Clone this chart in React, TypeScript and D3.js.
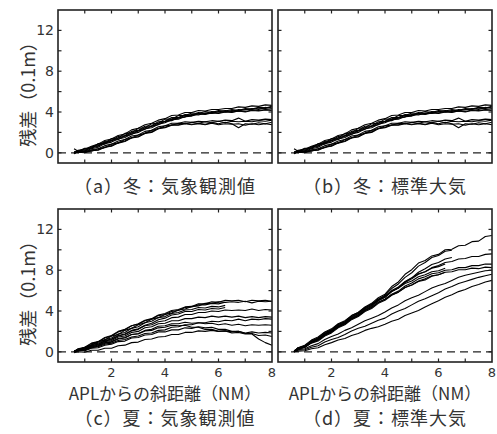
import React, { useRef, useEffect } from 'react';
import * as d3 from 'd3';

// distance along the slope (NM) at which each residual is sampled
const XS = [0.6, 0.75, 1.0, 1.25, 1.5, 1.75, 2.0, 2.25, 2.5, 2.75, 3.0, 3.25, 3.5, 3.75, 4.0, 4.25,
  4.5, 4.75, 5.0, 5.25, 5.5, 5.75, 6.0, 6.25, 6.5, 6.75, 7.0, 7.25, 7.5, 7.75, 8.0];

// winter runs (panels a and b look identical in the source)
const WINTER: number[][] = [
  [0.0, 0.25, 0.35, 0.65, 0.85, 1.2, 1.35, 1.7, 1.85, 2.25, 2.4, 2.75, 2.9, 3.2, 3.35, 3.65, 3.7, 3.95, 3.95, 4.15, 4.1, 4.25, 4.25, 4.35, 4.35, 4.5, 4.45, 4.6, 4.55, 4.7, 4.65],
  [0.1, 0.05, 0.4, 0.45, 0.9, 0.95, 1.4, 1.45, 1.9, 1.95, 2.4, 2.45, 2.85, 2.9, 3.3, 3.3, 3.65, 3.65, 3.9, 3.85, 4.05, 3.95, 4.15, 4.1, 4.25, 4.15, 4.35, 4.3, 4.45, 4.4, 4.55],
  [-0.1, 0.2, 0.25, 0.6, 0.7, 1.1, 1.2, 1.6, 1.7, 2.1, 2.2, 2.6, 2.65, 3.05, 3.1, 3.45, 3.45, 3.75, 3.7, 3.95, 3.85, 4.05, 4.0, 4.15, 4.05, 4.25, 4.2, 4.35, 4.25, 4.45, 4.35],
  [0.0, 0.15, 0.2, 0.5, 0.65, 1.0, 1.15, 1.45, 1.65, 1.95, 2.15, 2.45, 2.6, 2.9, 3.05, 3.3, 3.4, 3.65, 3.65, 3.85, 3.8, 3.95, 3.9, 4.05, 4.0, 4.1, 4.05, 4.2, 4.15, 4.25, 4.2],
  [0.4, 0.15, 0.45, 0.45, 0.85, 0.85, 1.25, 1.3, 1.65, 1.8, 2.15, 2.3, 2.6, 2.75, 3.1, 3.15, 3.45, 3.5, 3.75, 3.7, 3.9, 3.85, 4.05, 4.0, 4.15, 4.1, 4.25, 4.25, 4.4, 4.35, 4.5],
  [0.0, 0.1, 0.15, 0.4, 0.55, 0.9, 1.05, 1.35, 1.5, 1.85, 2.0, 2.35, 2.45, 2.8, 2.95, 3.25, 3.3, 3.55, 3.6, 3.8, 3.75, 3.9, 3.85, 4.0, 3.95, 4.1, 4.0, 4.15, 4.1, 4.2, 4.15],
  [0.0, 0.15, 0.1, 0.3, 0.4, 0.7, 0.85, 1.15, 1.3, 1.65, 1.75, 2.1, 2.2, 2.55, 2.65, 2.9, 2.9, 3.05, 3.0, 3.1, 3.05, 3.15, 3.1, 3.2, 3.15, 3.4, 3.1, 3.25, 3.2, 3.3, 3.25],
  [0.1, 0.0, 0.15, 0.15, 0.4, 0.5, 0.85, 0.95, 1.3, 1.45, 1.75, 1.9, 2.2, 2.35, 2.65, 2.7, 2.9, 2.85, 3.0, 2.9, 3.05, 2.95, 3.1, 2.95, 3.1, 3.05, 3.1, 3.05, 3.15, 3.1, 3.2],
  [0.0, 0.05, 0.0, 0.2, 0.25, 0.55, 0.65, 0.95, 1.1, 1.45, 1.55, 1.9, 2.0, 2.35, 2.45, 2.7, 2.7, 2.85, 2.75, 2.9, 2.8, 2.95, 2.85, 3.0, 2.85, 2.45, 2.85, 2.8, 2.95, 2.85, 3.0],
  [-0.1, 0.1, 0.05, 0.25, 0.3, 0.55, 0.7, 1.0, 1.15, 1.5, 1.6, 1.95, 2.05, 2.4, 2.5, 2.75, 2.75, 2.9, 2.8, 2.85, 2.75, 2.9, 2.75, 2.85, 2.8, 2.85, 2.7, 2.85, 2.75, 2.85, 2.75],
];

// summer, observed atmosphere (c)
const SUMMER_OBS: number[][] = [
  [0.0, 0.25, 0.4, 0.8, 0.95, 1.35, 1.55, 1.95, 2.15, 2.55, 2.75, 3.1, 3.25, 3.6, 3.75, 4.05, 4.15, 4.4, 4.45, 4.7, 4.7, 4.9, 4.85, 5.05, 5.0, 5.05, 4.9, 5.05, 5.0, 5.05, 4.95],
  [0.1, 0.2, 0.45, 0.65, 1.0, 1.15, 1.55, 1.7, 2.1, 2.3, 2.65, 2.85, 3.2, 3.35, 3.65, 3.8, 4.1, 4.2, 4.45, 4.5, 4.75, 4.75, 4.9, 4.85, 4.9, 4.85, 4.95, 4.8, 4.95, 4.9, 4.95],
  [0.0, 0.3, 0.45, 0.85, 1.0, 1.4, 1.6, 2.0, 2.2, 2.55, 2.7, 3.05, 3.2, 3.55, 3.65, 3.95, 4.05, 4.35, 4.4, 4.6, 4.6, 4.75, 4.7, 4.85],
  [0.0, 0.2, 0.35, 0.7, 0.85, 1.2, 1.35, 1.75, 1.9, 2.3, 2.45, 2.85, 3.0, 3.35, 3.45, 3.75, 3.85, 4.1, 4.15, 4.35, 4.3, 4.45, 4.4, 4.55],
  [0.0, 0.25, 0.3, 0.6, 0.75, 1.1, 1.25, 1.6, 1.75, 2.1, 2.25, 2.6, 2.8, 3.15, 3.3, 3.6, 3.7, 3.95, 3.95, 4.15, 4.1, 4.25, 4.2, 4.35],
  [0.0, 0.2, 0.3, 0.6, 0.75, 1.05, 1.2, 1.55, 1.7, 2.05, 2.2, 2.55, 2.65, 2.95, 3.05, 3.35, 3.4, 3.65, 3.65, 3.85, 3.85, 4.0, 3.95, 4.1, 4.05, 4.1, 4.05, 4.2, 4.05, 4.15, 4.1],
  [0.0, 0.15, 0.25, 0.55, 0.65, 1.0, 1.1, 1.45, 1.55, 1.9, 2.0, 2.35, 2.45, 2.75, 2.8, 3.05, 3.05, 3.25, 3.25, 3.4, 3.35, 3.5, 3.4, 3.5, 3.4, 3.5, 3.35, 3.45, 3.35, 3.45, 3.4],
  [0.0, 0.1, 0.15, 0.4, 0.5, 0.75, 0.85, 1.1, 1.2, 1.45, 1.55, 1.8, 1.85, 2.1, 2.15, 2.4, 2.45, 2.65, 2.65, 2.85, 2.85, 3.0, 2.95, 3.1, 3.05, 3.2, 3.05, 3.2, 3.15, 3.25, 3.2],
  [0.0, 0.15, 0.2, 0.5, 0.6, 0.9, 1.0, 1.3, 1.4, 1.7, 1.8, 2.1, 2.2, 2.5, 2.55, 2.75, 2.75, 2.9, 2.8, 2.85, 2.75, 2.8, 2.65, 2.75, 2.6, 2.7, 2.55, 2.65, 2.6, 2.65, 2.6],
  [0.0, 0.1, 0.1, 0.35, 0.4, 0.65, 0.75, 1.0, 1.05, 1.35, 1.4, 1.65, 1.7, 1.95, 1.95, 2.15, 2.15, 2.35, 2.3, 2.45, 2.35, 2.4, 2.2, 2.2, 2.0, 2.0, 1.8, 1.8, 1.6, 1.65, 1.5],
  [0.0, 0.15, 0.2, 0.45, 0.55, 0.85, 0.95, 1.25, 1.35, 1.7, 1.75, 2.05, 2.1, 2.35, 2.4, 2.6, 2.55, 2.6, 2.4, 2.4, 2.2, 2.2, 2.0, 2.05, 1.85, 1.9, 1.75, 1.75, 1.25, 0.9, 0.65],
  [-0.1, 0.0, -0.05, 0.15, 0.15, 0.35, 0.35, 0.6, 0.65, 0.9, 0.95, 1.2, 1.25, 1.45, 1.5, 1.7, 1.7, 1.9, 1.9, 2.05, 2.0, 2.1, 2.0, 2.05, 1.95, 2.0, 1.85, 1.95, 1.85, 1.9, 1.85],
];

// summer, standard atmosphere (d)
const SUMMER_STD: number[][] = [
  [0.0, 0.35, 0.55, 1.1, 1.35, 1.9, 2.15, 2.7, 2.95, 3.55, 3.85, 4.4, 4.75, 5.3, 5.65, 6.4, 6.85, 7.6, 8.05, 8.7, 8.95, 9.4, 9.55, 10.0, 10.05, 10.4, 10.45, 10.8, 10.85, 11.3, 11.4],
  [0.0, 0.35, 0.6, 1.0, 1.3, 1.75, 2.05, 2.55, 2.85, 3.4, 3.75, 4.3, 4.65, 5.15, 5.55, 6.2, 6.65, 7.3, 7.75, 8.4, 8.75, 9.25, 9.45, 9.85, 9.95],
  [0.0, 0.3, 0.45, 0.9, 1.15, 1.65, 1.95, 2.45, 2.75, 3.25, 3.55, 4.1, 4.45, 5.0, 5.35, 5.9, 6.25, 6.8, 7.15, 7.6, 7.85, 8.25, 8.45, 8.75, 8.85, 9.1, 9.15, 9.35, 9.35, 9.55, 9.6],
  [0.05, 0.4, 0.55, 1.0, 1.25, 1.75, 2.05, 2.55, 2.85, 3.35, 3.65, 4.2, 4.55, 5.1, 5.45, 6.0, 6.35, 6.9, 7.25, 7.65, 7.85, 8.2, 8.35, 8.6],
  [0.0, 0.25, 0.45, 0.9, 1.15, 1.65, 1.95, 2.45, 2.75, 3.25, 3.55, 4.05, 4.35, 4.85, 5.15, 5.65, 5.95, 6.45, 6.75, 7.15, 7.35, 7.65, 7.75, 8.0, 8.05, 8.25, 8.25, 8.45, 8.45, 8.6, 8.6],
  [0.0, 0.3, 0.45, 0.85, 1.05, 1.55, 1.85, 2.35, 2.65, 3.15, 3.45, 3.95, 4.25, 4.75, 5.05, 5.55, 5.85, 6.3, 6.55, 6.95, 7.15, 7.45, 7.55, 7.8, 7.85, 8.05, 8.05, 8.2, 8.15, 8.3, 8.25],
  [0.0, 0.4, 0.65, 1.15, 1.45, 1.95, 2.25, 2.75, 3.05, 3.55, 3.85, 4.35, 4.65, 5.15, 5.45, 5.95, 6.25, 6.7, 6.95, 7.35, 7.55, 7.85, 7.95, 8.2],
  [0.1, 0.35, 0.55, 1.0, 1.25, 1.7, 1.95, 2.45, 2.75, 3.25, 3.55, 4.05, 4.35, 4.85, 5.15, 5.6, 5.85, 6.3, 6.55, 6.9, 7.05, 7.4, 7.55, 7.8],
  [0.0, 0.15, 0.2, 0.45, 0.6, 0.95, 1.2, 1.4, 1.7, 2.05, 2.3, 2.5, 2.8, 3.1, 3.3, 3.7, 4.0, 4.25, 4.6, 4.95, 5.2, 5.5, 5.8, 6.15, 6.4, 6.7, 6.9, 7.1, 7.3, 7.45, 7.6],
  [0.0, 0.05, 0.1, 0.3, 0.4, 0.7, 0.9, 1.15, 1.3, 1.6, 1.8, 2.1, 2.3, 2.45, 2.7, 3.0, 3.2, 3.55, 3.8, 4.05, 4.4, 4.7, 5.0, 5.35, 5.6, 5.9, 6.1, 6.4, 6.6, 6.85, 7.0],
  [0.0, 0.2, 0.3, 0.6, 0.8, 1.2, 1.5, 1.75, 2.1, 2.35, 2.7, 3.05, 3.3, 3.55, 3.9, 4.3, 4.6, 5.0, 5.3, 5.55, 5.9, 6.25, 6.5, 6.7, 7.0, 7.3, 7.5, 7.65, 7.8, 7.95, 8.0],
  [0.0, 0.3, 0.45, 0.95, 1.25, 1.8, 2.15, 2.65, 2.95, 3.45, 3.75, 4.25, 4.55, 5.05, 5.35, 5.9, 6.25, 6.85, 7.25, 7.8, 8.15, 8.55, 8.75, 9.1, 9.25],
];

const X_TICKS = [1, 2, 3, 4, 5, 6, 7];
const X_LABELS = [2, 4, 6, 8];
const Y_TICKS = [0, 2, 4, 6, 8, 10, 12];
const Y_LABELS = [0, 4, 8, 12];
const CAPTIONS = ['（a）冬：気象観測値', '（b）冬：標準大気', '（c）夏：気象観測値', '（d）夏：標準大気'];
const Y_TITLE = '残差（0.1m）';
const X_TITLE = 'APLからの斜距離（NM）';

const CJK = '"Noto Sans CJK JP", sans-serif';
const NUM = '"DejaVu Sans", sans-serif';

export default function App() {
  const svgRef = useRef<SVGSVGElement>(null);

  useEffect(() => {
    if (!svgRef.current) return;
    const svg = d3.select(svgRef.current);
    svg.selectAll('*').remove();

    const W = 214, H = 153;
    const panels = [
      { x: 58, y: 10, data: WINTER, left: true, bottom: false },
      { x: 278, y: 10, data: WINTER, left: false, bottom: false },
      { x: 58, y: 209, data: SUMMER_OBS, left: true, bottom: true },
      { x: 278, y: 209, data: SUMMER_STD, left: false, bottom: true },
    ];

    panels.forEach((p, pi) => {
      const x = d3.scaleLinear().domain([0, 8]).range([p.x, p.x + W]);
      const y = d3.scaleLinear().domain([-1, 14]).range([p.y + H, p.y]);
      const g = svg.append('g');

      // zero reference
      g.append('line')
        .attr('x1', x(0)).attr('x2', x(8))
        .attr('y1', y(0)).attr('y2', y(0))
        .attr('stroke', '#222').attr('stroke-width', 1.2)
        .attr('stroke-dasharray', '8,5');

      const line = d3.line<number>()
        .x((_, i) => x(XS[i]))
        .y(d => y(d));

      g.selectAll('.run')
        .data(p.data)
        .enter()
        .append('path')
        .attr('class', 'run')
        .attr('d', d => line(d))
        .attr('fill', 'none')
        .attr('stroke', '#000')
        .attr('stroke-width', 1.1)
        .attr('stroke-linejoin', 'round');

      // inward ticks on all four sides
      const tl = 3.5;
      X_TICKS.forEach(t => {
        g.append('line').attr('x1', x(t)).attr('x2', x(t)).attr('y1', p.y).attr('y2', p.y + tl)
          .attr('stroke', '#222').attr('stroke-width', 1.2);
        g.append('line').attr('x1', x(t)).attr('x2', x(t)).attr('y1', p.y + H).attr('y2', p.y + H - tl)
          .attr('stroke', '#222').attr('stroke-width', 1.2);
      });
      Y_TICKS.forEach(t => {
        g.append('line').attr('x1', p.x).attr('x2', p.x + tl).attr('y1', y(t)).attr('y2', y(t))
          .attr('stroke', '#222').attr('stroke-width', 1.2);
        g.append('line').attr('x1', p.x + W).attr('x2', p.x + W - tl).attr('y1', y(t)).attr('y2', y(t))
          .attr('stroke', '#222').attr('stroke-width', 1.2);
      });

      g.append('rect')
        .attr('x', p.x).attr('y', p.y).attr('width', W).attr('height', H)
        .attr('fill', 'none').attr('stroke', '#222').attr('stroke-width', 1.6);

      if (p.left) {
        Y_LABELS.forEach(t => {
          g.append('text')
            .attr('x', p.x - 4).attr('y', y(t) + 5)
            .attr('text-anchor', 'end')
            .attr('font-family', NUM)
            .attr('font-size', '14px')
            .attr('fill', '#333')
            .text(t);
        });
        g.append('text')
          .attr('transform', `translate(${27},${p.y + 80}) rotate(-90)`)
          .attr('text-anchor', 'middle')
          .attr('dominant-baseline', 'central')
          .attr('font-family', CJK)
          .attr('font-size', '18px')
          .attr('fill', '#333')
          .text(Y_TITLE);
      }

      if (p.bottom) {
        X_LABELS.forEach(t => {
          g.append('text')
            .attr('x', x(t)).attr('y', p.y + H + 15)
            .attr('text-anchor', 'middle')
            .attr('font-family', NUM)
            .attr('font-size', '13px')
            .attr('fill', '#333')
            .text(t);
        });
        g.append('text')
          .attr('x', p.x + W / 2).attr('y', p.y + H + 38)
          .attr('text-anchor', 'middle')
          .attr('font-family', CJK)
          .attr('font-size', '17px')
          .attr('fill', '#333')
          .text(X_TITLE);
      }

      g.append('text')
        .attr('x', p.x + W / 2)
        .attr('y', p.bottom ? 425 : 193)
        .attr('text-anchor', 'middle')
        .attr('font-family', CJK)
        .attr('font-size', '18px')
        .attr('letter-spacing', '1px')
        .attr('fill', '#333')
        .text(CAPTIONS[pi]);
    });
  }, []);

  return (
    <svg
      ref={svgRef}
      width={497}
      height={434}
      style={{ position: 'absolute', left: 0, top: 0, background: '#fff' }}
    />
  );
}
